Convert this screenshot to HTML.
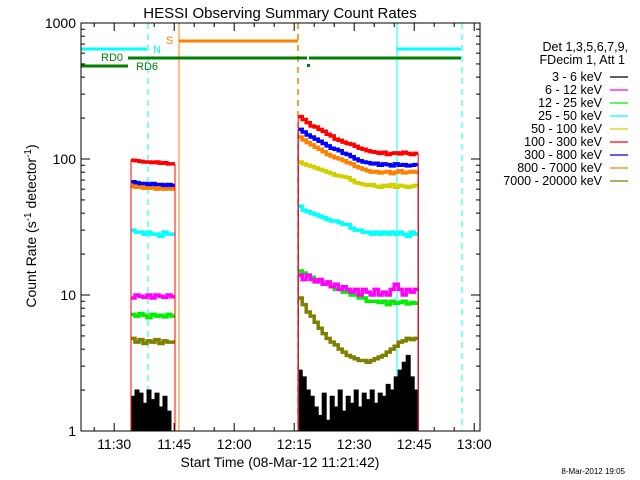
<!DOCTYPE html>
<html><head><meta charset="utf-8"><style>
body{margin:0;background:#fff;}
svg{display:block;font-family:"Liberation Sans",sans-serif;}
</style></head><body>
<svg id="chart" width="640" height="480" viewBox="0 0 640 480">
<rect width="640" height="480" fill="#fff"/>
<text x="280" y="18" font-size="15" text-anchor="middle">HESSI Observing Summary Count Rates</text>
<g id="marks"></g>
<g id="axes"></g>
<text transform="translate(36,226) rotate(-90)" font-size="14" text-anchor="middle">Count Rate (s<tspan font-size="10" dy="-5">-1</tspan><tspan dy="5"> detector</tspan><tspan font-size="10" dy="-5">-1</tspan><tspan dy="5">)</tspan></text>
<text x="280" y="467" font-size="14" text-anchor="middle">Start Time (08-Mar-12 11:21:42)</text>
<text x="625" y="474" font-size="8" text-anchor="end">8-Mar-2012 19:05</text>
<g id="legend" font-size="12.5" text-anchor="end">
<text x="628" y="51">Det 1,3,5,6,7,9,</text>
<text x="625" y="64">FDecim 1, Att 1</text>
</g>
</svg>
<script>
const seriesNames=["3 - 6 keV","6 - 12 keV","12 - 25 keV","25 - 50 keV","50 - 100 keV","100 - 300 keV","300 - 800 keV","800 - 7000 keV","7000 - 20000 keV"];
const seriesColors=["#000000","#ff00ff","#00ee00","#00ffff","#d0d000","#ff0000","#0000ff","#ff8000","#808000"];
const xTickLabels=["11:30","11:45","12:00","12:15","12:30","12:45","13:00"];
const xTickMinutes=[8.3,23.3,38.3,53.3,68.3,83.3,98.3];
const yTickValues=[1,10,100,1000];
// segment 1 (minutes from 11:21:42)
const leftStart=12.5;
const leftBlack=[1.8,2,1.9,1.6,2,1.7,1.9,1.5,1.8,1.4,1];
const leftMagenta=[9.5,10,9.8,9.6,10,9.5,10,9.8,9.6,10,9.7];
const leftGreen=[7.2,7,7.3,7.1,6.8,7.2,7,7.1,6.9,7.2,7];
const leftCyan=[30,29,29,28,29,28,28,27,29,28,28];
const leftYellow=[64,63,63,62,62,62,61,62,61,61,61];
const leftRed=[98,97,96,95,95,94,95,93,94,92,92];
const leftBlue=[68,67,66,66,65,66,65,65,64,65,64];
const leftOrange=[63,62,62,61,61,62,60,61,60,61,60];
const leftOlive=[4.8,4.5,4.7,4.4,4.6,4.5,4.7,4.4,4.6,4.5,4.5];
// segment 2
const rightStart=54.3;
const rightBlack=[2.8,2.5,2,1.8,1.5,1.3,1.9,1.2,1.8,1.5,2,1.4,1.8,1.6,2,1.5,1.9,1.7,2,1.6,1.9,1.8,2.2,2,2.5,2.8,3.2,3.6,2.5,2];
const rightMagenta=[14,13,14,13,12.5,13,12,12.5,11.5,12,11,11.5,11,10.5,11,10,11,10.5,10,11,10,10.5,10,11,12,11,10,11,10.5,11];
const rightGreen=[15,14.5,14,13.5,13,12.5,12,12,11.5,11,11,10.5,10.5,10,10,9.5,9.5,9,9,9,8.8,9,8.5,9,8.7,8.8,9,8.6,8.8,8.7];
const rightCyan=[45,42,41,40,39,38,37,36,35,35,34,33,33,31,30,30,29,29,28,29,28,29,28,29,28,29,28,27,29,28];
const rightYellow=[95,92,90,88,86,84,82,80,78,76,75,74,73,70,67,66,65,64,65,63,62,64,63,65,62,64,63,62,63,64];
const rightRed=[205,195,185,175,172,165,160,152,148,140,137,133,130,128,124,120,118,115,113,112,110,112,108,110,111,109,112,110,108,110];
const rightBlue=[165,158,150,145,140,135,130,125,120,118,115,110,108,104,100,97,95,94,92,93,90,92,91,89,92,90,91,89,90,91];
const rightOrange=[145,138,132,127,122,118,113,108,105,102,100,97,94,92,88,86,84,82,80,81,79,80,81,78,80,82,79,80,81,80];
const rightOlive=[9.5,8.5,7.5,7,6.3,5.7,5.2,4.8,4.5,4.3,4,3.8,3.6,3.5,3.4,3.3,3.3,3.2,3.3,3.4,3.5,3.6,3.8,4,4.2,4.5,4.6,4.8,4.7,4.8];

const X0=81,X1=480,Y0=23,Y1=431;
const xs=m=>X0+m*4;
const ys=v=>Y1-136*Math.log10(v);
const NS="http://www.w3.org/2000/svg";
function mk(tag,attrs,parent){const e=document.createElementNS(NS,tag);for(const k in attrs)e.setAttribute(k,attrs[k]);parent.appendChild(e);return e;}
const marks=document.getElementById('marks'),axes=document.getElementById('axes'),legend=document.getElementById('legend');

[[X0,"#00ffff",null,"saa-start-line"],[148,"#00ffff","6,5","night-line-1"],[179,"#ff8000",null,"saa-orange-line"],[298,"#ff8000","6,5","orange-dashed-line"],[397,"#00ffff",null,"night-line-2"],[462,"#00ffff","6,5","night-line-3"]].forEach(v=>{
  const l=mk('line',{x1:v[0],x2:v[0],y1:Y0,y2:Y1,stroke:v[1],'stroke-width':v[1]=="#ff8000"&&v[2]?1.5:1},marks);
  if(v[2])l.setAttribute('stroke-dasharray',v[2]);
  
  
});
[[81,147,49,"#00ffff","night-bar-1"],[397,461,49,"#00ffff","night-bar-2"],[179,298,41,"#ff8000","saa-bar"],[128,307,58,"#008000","rd0-bar-1"],[309,461,58,"#008000","rd0-bar-2"],[81,128,66,"#008000","rd6-bar"]].forEach(b=>{
  const l=mk('line',{x1:b[0],x2:b[1],y1:b[2],y2:b[2],stroke:b[3],'stroke-width':3},marks);
  
  
});
const dot=mk('rect',{x:307,y:64,width:3,height:3,fill:"#008000"},marks);


[["N",153,53,"#00ffff","night-label"],["S",166,44,"#ff8000","saa-label"],["RD0",101,61,"#008000","rd0-label"],["RD6",136,70,"#008000","rd6-label"]].forEach(t=>{
  const e=mk('text',{x:t[1],y:t[2],fill:t[3],'font-size':11},marks);e.textContent=t[0];
  
  
});

const leftData=[leftBlack,leftMagenta,leftGreen,leftCyan,leftYellow,leftRed,leftBlue,leftOrange,leftOlive];
const rightData=[rightBlack,rightMagenta,rightGreen,rightCyan,rightYellow,rightRed,rightBlue,rightOrange,rightOlive];
const drawOrder=[0,8,2,1,3,4,7,6,5];
function stepPath(start,vals,closed){
  let d=closed?`M${xs(start)},${Y1}`:'';
  vals.forEach((v,i)=>{d+=`${(i==0&&!closed)?'M':' L'}${xs(start+i)},${ys(v)} L${xs(start+i+1)},${ys(v)}`;});
  if(closed)d+=` L${xs(start+vals.length)},${Y1} Z`;
  return d;
}
[[leftStart,leftData,"left"],[rightStart,rightData,"right"]].forEach(seg=>{
  drawOrder.forEach(i=>{
    const vals=seg[1][i];
    const x0=xs(seg[0]),x1=xs(seg[0]+vals.length);
    if(i==0){
      const p=mk('path',{d:stepPath(seg[0],vals,true),fill:"#000",stroke:"#000",'stroke-width':1},marks);
      
      
      return;
    }
    const e1=mk('line',{x1:x0,x2:x0,y1:Y1,y2:ys(vals[0]),stroke:seriesColors[i],'stroke-width':1},marks);
    
    
    const e2=mk('line',{x1:x1,x2:x1,y1:Y1,y2:ys(vals[vals.length-1]),stroke:seriesColors[i],'stroke-width':1},marks);
    
    
    const p=mk('path',{d:stepPath(seg[0],vals,false),fill:"none",stroke:seriesColors[i],'stroke-width':3.5},marks);
    
    
  });
});

const box=mk('rect',{x:X0,y:Y0,width:X1-X0,height:Y1-Y0,fill:"none",stroke:"#000",'stroke-width':1},axes);


for(let m=-1.7;m<100;m+=5){
  const x=xs(m);if(x<X0||x>X1)continue;
  const major=xTickMinutes.some(t=>Math.abs(t-m)<0.01);
  const len=major?8:4;
  mk('line',{x1:x,x2:x,y1:Y1,y2:Y1-len,stroke:"#000"},axes);
  mk('line',{x1:x,x2:x,y1:Y0,y2:Y0+len,stroke:"#000"},axes);
}
xTickLabels.forEach((t,i)=>{
  const e=mk('text',{x:xs(xTickMinutes[i]),y:449,'font-size':14,'text-anchor':'middle'},axes);e.textContent=t;
  
  
});
for(let d=0;d<3;d++)for(let k=1;k<=10;k++){
  const v=k*Math.pow(10,d);const y=ys(v);const len=(k==1||k==10)?9:4;
  mk('line',{x1:X0,x2:X0+len,y1:y,y2:y,stroke:"#000"},axes);
  mk('line',{x1:X1,x2:X1-len,y1:y,y2:y,stroke:"#000"},axes);
}
yTickValues.forEach(v=>{
  const e=mk('text',{x:76,y:ys(v)+5,'font-size':14,'text-anchor':'end'},axes);e.textContent=v;
  
  
});
seriesNames.forEach((n,i)=>{
  const y=77+i*13;
  const t=mk('text',{x:602,y:y+4},legend);t.textContent=n;
  
  
  const l=mk('line',{x1:610,x2:628,y1:y,y2:y,stroke:seriesColors[i],'stroke-width':1.3},legend);
  
  
});
</script>
</body></html>
